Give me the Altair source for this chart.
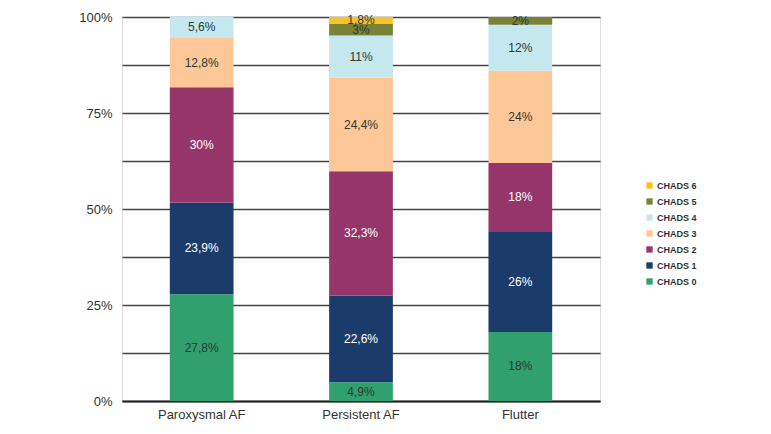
import altair as alt
import pandas as pd

categories = ["Paroxysmal AF", "Persistent AF", "Flutter"]
series = ["CHADS 0", "CHADS 1", "CHADS 2", "CHADS 3", "CHADS 4", "CHADS 5", "CHADS 6"]
paroxysmal = [27.8, 23.9, 30.0, 12.8, 5.6, 0, 0]
persistent = [4.9, 22.6, 32.3, 24.4, 11.0, 3.0, 1.8]
flutter = [18.0, 26.0, 18.0, 24.0, 12.0, 2.0, 0]
colors = ["#30a06f", "#1b3c6a", "#96356a", "#fdc797", "#c5e7ee", "#7a8237", "#f6c42a"]
y_ticks = [0, 0.125, 0.25, 0.375, 0.5, 0.625, 0.75, 0.875, 1.0]

rows = []
for cat, vals in zip(categories, [paroxysmal, persistent, flutter]):
    for i, (s, v) in enumerate(zip(series, vals)):
        if v > 0:
            rows.append({"cat": cat, "series": s, "idx": i, "value": v / 100.0,
                         "label": f"{v:g}".replace(".", ",") + "%"})
df = pd.DataFrame(rows)

FONT = "Liberation Sans Narrow, Liberation Sans, Arial"

base = alt.Chart(df).transform_stack(
    stack="value", groupby=["cat"], sort=[alt.SortField("idx", order="ascending")], as_=["y0", "y1"]
).transform_calculate(mid="(datum.y0 + datum.y1) / 2")

x_enc = alt.X("cat:N", sort=categories, title=None,
              scale=alt.Scale(paddingInner=0.6, paddingOuter=0.3),
              axis=alt.Axis(labelAngle=0, labelFontSize=13, labelColor="#333333", labelPadding=7,
                            ticks=False, domainColor="#222222", domainWidth=2, labelFont=FONT))

bars = base.mark_bar().encode(
    x=x_enc,
    y=alt.Y("y0:Q", title=None, scale=alt.Scale(domain=[0, 1]),
            axis=alt.Axis(values=y_ticks, format=".0%", ticks=False, domain=False,
                          labelExpr="(round(datum.value*1000) % 250 == 0) ? format(datum.value, '.0%') : ''",
                          labelFontSize=13, labelColor="#333333", labelPadding=10, labelFont=FONT,
                          gridColor="#444444", gridWidth=1.3)),
    y2="y1:Q",
    color=alt.Color("series:N", scale=alt.Scale(domain=series[::-1], range=colors[::-1]),
                    legend=alt.Legend(title=None, orient="none", legendX=523, legendY=164,
                                      symbolType="square", symbolSize=40, symbolStrokeWidth=0,
                                      labelFontSize=9, labelFontWeight="bold", labelColor="#333333",
                                      labelFont=FONT, rowPadding=6, labelOffset=3)),
)

texts = base.mark_text(fontSize=12, font=FONT).encode(
    x=alt.X("cat:N", sort=categories),
    y=alt.Y("mid:Q"),
    text="label:N",
    color=alt.condition(alt.FieldOneOfPredicate(field="series", oneOf=["CHADS 1", "CHADS 2"]),
                        alt.value("#ffffff"), alt.value("#2b3a33")),
)

chart = alt.layer(bars, texts).properties(
    width=478, height=384,
    autosize=alt.AutoSizeParams(type="none"),
    padding={"left": 114, "top": 9, "right": 150, "bottom": 25},
).configure_view(stroke=None).configure(background="white")

chart.save("out.html", embed_options={"renderer": "svg", "actions": False})
